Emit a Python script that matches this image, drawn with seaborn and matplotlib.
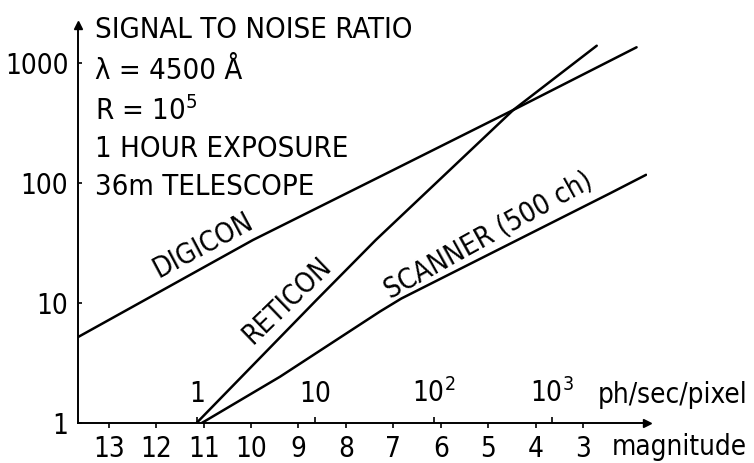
import matplotlib
matplotlib.use("Agg")
import matplotlib.pyplot as plt
from matplotlib import font_manager
from matplotlib.ticker import FixedLocator, FixedFormatter, NullLocator
import seaborn as sns
import pandas as pd

# magnitude that gives 1 ph/sec/pixel (top scale of the x axis)
MAG_AT_ONE_PHOTON = 11.15

digicon_mag = [13.65, 9.96, 7.28, 4.47, 1.87]
digicon_snr = [5.2, 33.5, 113, 406, 1352]
reticon_mag = [11.15, 8.62, 7.37, 4.47, 2.71]
reticon_snr = [1.0, 10.6, 33.5, 406, 1393]
scanner_mag = [11.04, 9.39, 7.28, 6.83, 2.43, 1.67]
scanner_snr = [1.0, 2.43, 8.5, 10.9, 82, 117]

mag_ticks = [13, 12, 11, 10, 9, 8, 7, 6, 5, 4, 3]
snr_ticks = [1, 10, 100, 1000]
snr_labels = ["1", "10", "100", "1000"]
photon_log_ticks = [0, 1, 2, 3]
photon_labels = ["$1$", "$10$", "$10^2$", "$10^3$"]

info_lines = ["SIGNAL TO NOISE RATIO", "λ = 4500 Å", "R = 10$^5$",
              "1 HOUR EXPOSURE", "36m TELESCOPE"]


def mag_to_logph(m):
    return (MAG_AT_ONE_PHOTON - m) / 2.5


def logph_to_mag(p):
    return MAG_AT_ONE_PHOTON - 2.5 * p


rows = []
for name, mags, snrs in [("DIGICON", digicon_mag, digicon_snr),
                         ("RETICON", reticon_mag, reticon_snr),
                         ("SCANNER", scanner_mag, scanner_snr)]:
    for m, s in zip(mags, snrs):
        rows.append({"detector": name, "magnitude": m, "snr": s})
df = pd.DataFrame(rows)

sns.set_style("white")

# the original uses a narrow typeface; take a condensed face if there is one
fonts = font_manager.fontManager.ttflist
names = {f.name for f in fonts}
if "Liberation Sans Narrow" in names:
    plt.rcParams["font.family"] = ["Liberation Sans Narrow", "DejaVu Sans"]
elif any(f.name == "DejaVu Sans" and f.stretch == "condensed" for f in fonts):
    plt.rcParams["font.family"] = ["DejaVu Sans"]
    plt.rcParams["font.stretch"] = "condensed"
else:
    plt.rcParams["font.family"] = ["Liberation Sans", "DejaVu Sans"]
plt.rcParams["mathtext.default"] = "regular"
for key in ["text.color", "xtick.color", "ytick.color", "axes.labelcolor"]:
    plt.rcParams[key] = "black"
FS = 20

W, H = 754, 463
fig = plt.figure(figsize=(W / 100, H / 100), dpi=100)
ax = fig.add_axes([78 / W, 1 - 423 / H, (647 - 78) / W, (423 - 25) / H])

sns.lineplot(data=df, x="magnitude", y="snr", hue="detector", units="detector",
             estimator=None, sort=False, palette=["black"] * 3, linewidth=1.8,
             legend=False, ax=ax)

ax.set_yscale("log")
ax.set_xlim(13.65, 1.65)
ax.set_ylim(1, 2073)
ax.set_xlabel("")
ax.set_ylabel("")

ax.xaxis.set_major_locator(FixedLocator(mag_ticks))
ax.xaxis.set_major_formatter(FixedFormatter([str(t) for t in mag_ticks]))
ax.yaxis.set_major_locator(FixedLocator(snr_ticks))
ax.yaxis.set_major_formatter(FixedFormatter(snr_labels))
ax.yaxis.set_minor_locator(NullLocator())
ax.tick_params(axis="x", direction="out", length=3.5, width=1.2, pad=5,
               labelsize=FS, bottom=True)
ax.tick_params(axis="y", direction="in", length=3, width=1.2, pad=7,
               labelsize=FS, left=True)

for side in ["top", "right"]:
    ax.spines[side].set_visible(False)
for side in ["left", "bottom"]:
    ax.spines[side].set_linewidth(1.4)
    ax.spines[side].set_color("black")

# arrow heads on the axes
ax.plot(1, 0, ">k", markersize=6, transform=ax.transAxes, clip_on=False)
ax.plot(0, 1, "^k", markersize=6, transform=ax.transAxes, clip_on=False)

# photon scale drawn on the same baseline, ticks and labels above it
sec = ax.secondary_xaxis(0, functions=(mag_to_logph, logph_to_mag))
sec.set_alignment("top")
sec.set_xticks(photon_log_ticks, labels=photon_labels)
sec.tick_params(axis="x", direction="out", length=4, width=1.2, pad=6.5,
                labelsize=FS)
for sp in sec.spines.values():
    sp.set_visible(False)

fig.text(598 / W, 1 - 403 / H, "ph/sec/pixel", fontsize=FS, va="baseline")
fig.text(612 / W, 1 - 455 / H, "magnitude", fontsize=FS, va="baseline")

baselines = [38, 79, 120, 157, 195]
for txt, b in zip(info_lines, baselines):
    fig.text(95 / W, 1 - b / H, txt, fontsize=21, va="baseline")

ax.text(11.02, 30.4, "DIGICON", fontsize=FS, rotation=28,
        ha="center", va="center")
ax.text(9.245, 10.6, "RETICON", fontsize=FS, rotation=44,
        ha="center", va="center")
ax.text(5.0, 36.9, "SCANNER (500 ch)", fontsize=FS, rotation=29,
        ha="center", va="center")

fig.savefig("out.png", dpi=100, facecolor="white")
